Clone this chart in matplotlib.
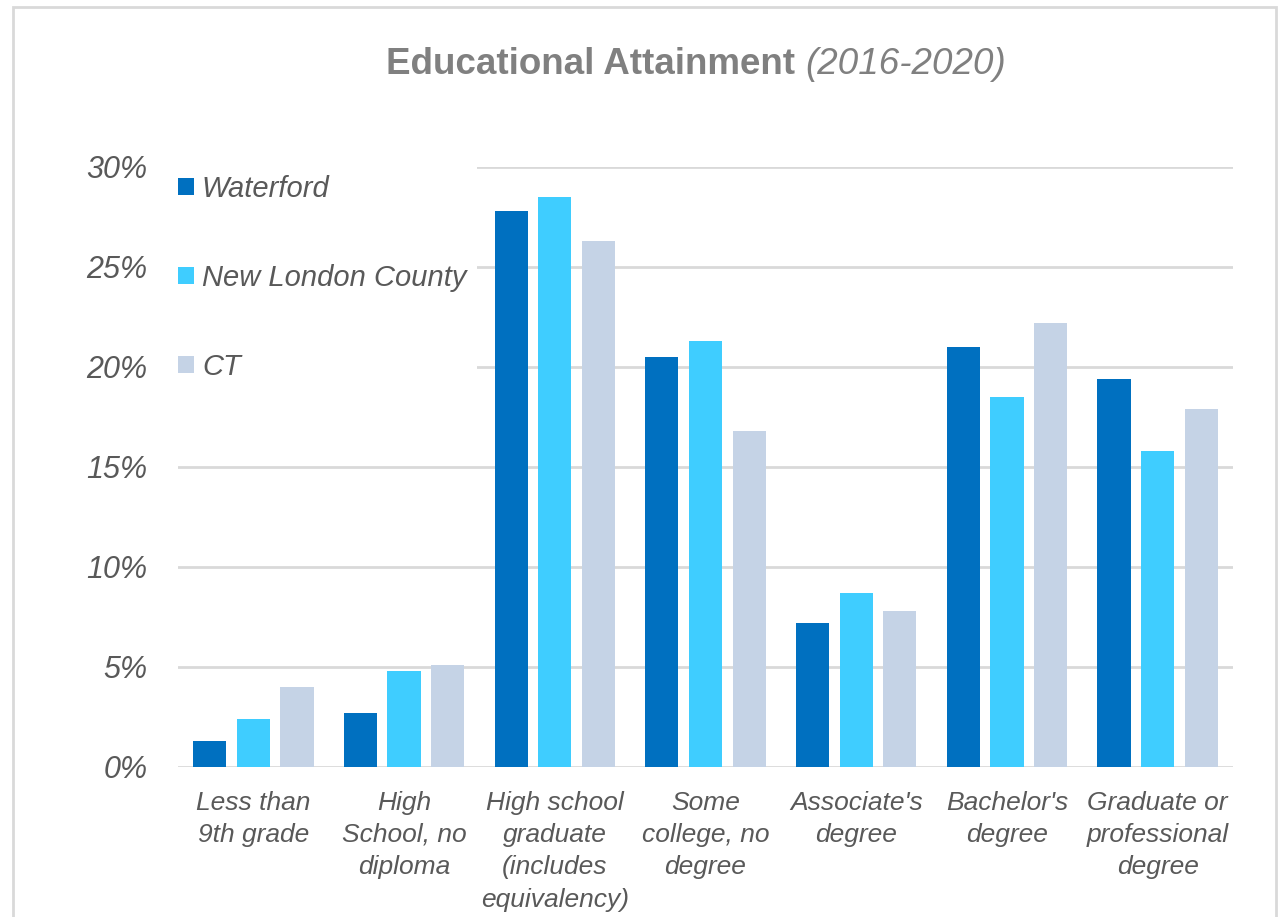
import numpy as np
import matplotlib.pyplot as plt
from matplotlib.patches import Rectangle

categories = ["Less than\n9th grade", "High\nSchool, no\ndiploma",
              "High school\ngraduate\n(includes\nequivalency)",
              "Some\ncollege, no\ndegree", "Associate's\ndegree",
              "Bachelor's\ndegree", "Graduate or\nprofessional\ndegree"]
series = ["Waterford", "New London County", "CT"]
waterford = [1.3, 2.7, 27.8, 20.5, 7.2, 21.0, 19.4]
new_london = [2.4, 4.8, 28.5, 21.3, 8.7, 18.5, 15.8]
ct = [4.0, 5.1, 26.3, 16.8, 7.8, 22.2, 17.9]
colors = ["#0070C0", "#3FCDFF", "#C5D3E6"]
yticks = [0, 5, 10, 15, 20, 25, 30]

plt.rcParams['font.family'] = ['Liberation Sans', 'DejaVu Sans']
text_color = "#595959"
grid_color = "#D9D9D9"

fig = plt.figure(figsize=(12.79, 9.17), dpi=100)
ax = fig.add_axes([178 / 1279, 1 - 767 / 917, 1055 / 1279, 600 / 917])

# chart frame running off the bottom edge
fig.patches.append(Rectangle((13 / 1279, -0.05), 1263 / 1279, 1.05 - 7 / 917,
                             transform=fig.transFigure, fill=False,
                             edgecolor=grid_color, linewidth=2))

x = np.arange(len(categories))
width = 0.22
step = 0.29
for i, (vals, c) in enumerate(zip([waterford, new_london, ct], colors)):
    ax.bar(x + (i - 1) * step, vals, width, color=c, label=series[i],
           zorder=3)

ax.set_xlim(-0.5, len(categories) - 0.5)
ax.set_ylim(0, 30)
ax.set_yticks(yticks)
ax.set_yticklabels([f"{t}%" for t in yticks])
ax.set_xticks(x)
ax.set_xticklabels(categories, linespacing=1.44)
ax.yaxis.grid(True, color=grid_color, linewidth=2)
ax.set_axisbelow(True)
for s in ax.spines.values():
    s.set_visible(False)
ax.tick_params(axis='y', length=0, pad=22, labelsize=22, labelcolor=text_color)
ax.tick_params(axis='x', length=0, pad=17, labelsize=19, labelcolor=text_color)
for lbl in ax.get_xticklabels() + ax.get_yticklabels():
    lbl.set_fontstyle('italic')

# legend sits on top of the upper gridlines with a white box
leg = ax.legend(loc='upper left', bbox_to_anchor=(-0.0097, 1.0037),
                fontsize=21, frameon=True, fancybox=False, framealpha=1,
                facecolor='white', edgecolor='none', handlelength=0.55,
                handleheight=0.55, handletextpad=0.27, labelspacing=2.09,
                borderpad=0.35, borderaxespad=0)
for t in leg.get_texts():
    t.set_color(text_color)
    t.set_fontstyle('italic')

fig.text(795 / 1279, 1 - 64 / 917, "Educational Attainment", ha='right',
         va='center', fontsize=26.5, fontweight='bold', color="#808080")
fig.text(805 / 1279, 1 - 64 / 917, "(2016-2020)", ha='left', va='center',
         fontsize=26.5, fontstyle='italic', color="#808080")

fig.savefig("out.png", dpi=100)
